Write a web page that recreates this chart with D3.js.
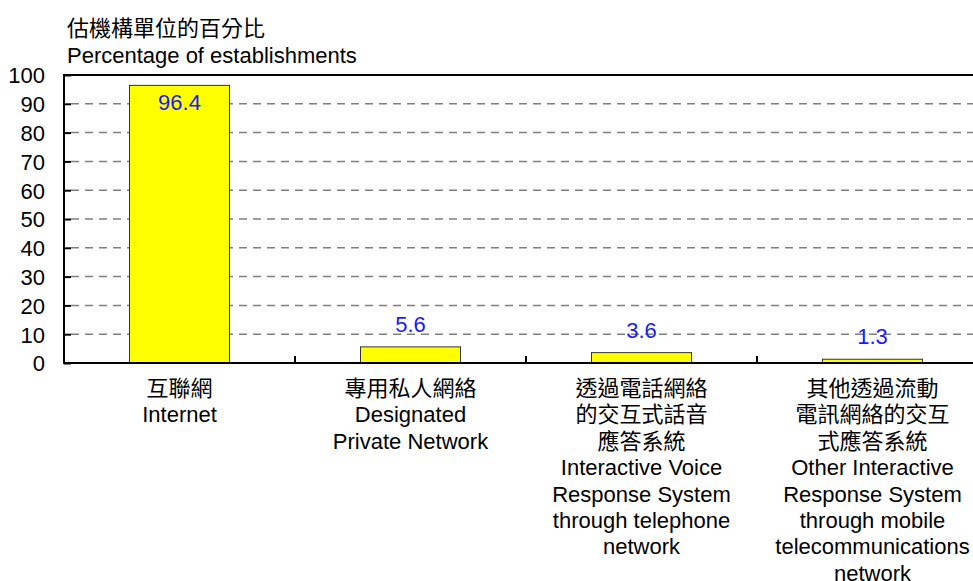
<!DOCTYPE html>
<html lang="zh-Hant">
  <head>
    <meta charset="UTF-8" />
    <title>估機構單位的百分比</title>
    <style>
      body { margin: 0; background: #fff; }
      text {
        font-family: "Liberation Sans", Arial, "Noto Sans CJK TC", sans-serif;
        font-size: 22px;
        fill: #000;
      }
      .grid line { stroke: #808080; stroke-width: 1.5px; stroke-dasharray: 8, 6; }
      .bar { fill: #ffff00; stroke: #333; stroke-width: 1px; }
      .value { fill: #1a1aff; text-anchor: middle; }
    </style>
  </head>
  <body>
    <div id="chart"></div>
    <script src="https://cdn.jsdelivr.net/npm/d3@7"></script>
    <script>
      /* global d3 */

      // data
      const categories = [
        ["互聯網", "Internet"],
        ["專用私人網絡", "Designated", "Private Network"],
        ["透過電話網絡", "的交互式話音", "應答系統", "Interactive Voice",
         "Response System", "through telephone", "network"],
        ["其他透過流動", "電訊網絡的交互", "式應答系統", "Other Interactive",
         "Response System", "through mobile", "telecommunications", "network"]
      ];
      const values = [96.4, 5.6, 3.6, 1.3];
      const yTicks = [0, 10, 20, 30, 40, 50, 60, 70, 80, 90, 100];
      const titleLines = ["估機構單位的百分比", "Percentage of establishments"];

      const width = 973,
        height = 581;
      const plotLeft = 64, plotTop = 75, plotBottom = 363, plotRight = 988;

      const svg = d3.select("#chart").append("svg")
        .attr("width", width)
        .attr("height", height);

      const x = d3.scaleBand()
        .domain(d3.range(values.length))
        .range([plotLeft, plotRight])
        .padding(0);

      const y = d3.scaleLinear().domain([0, 100]).range([plotBottom, plotTop]);

      // title
      svg.selectAll(".title")
        .data(titleLines)
        .join("text")
        .attr("class", "title")
        .attr("x", 67)
        .attr("y", (d, i) => 36 + i * 27)
        .text(d => d);

      // dashed gridlines
      svg.append("g")
        .attr("class", "grid")
        .selectAll("line")
        .data(yTicks.filter(t => t > 0 && t < 100))
        .join("line")
        .attr("x1", plotLeft + 7)
        .attr("x2", width)
        .attr("y1", d => y(d))
        .attr("y2", d => y(d));

      // bars
      const bw = x.bandwidth() * 0.433;
      svg.selectAll(".bar")
        .data(values)
        .join("rect")
        .attr("class", "bar")
        .attr("x", (d, i) => x(i) + x.bandwidth() / 2 - bw / 2)
        .attr("y", d => y(d))
        .attr("width", bw)
        .attr("height", d => y(0) - y(d));

      // value labels
      svg.selectAll(".value")
        .data(values)
        .join("text")
        .attr("class", "value")
        .attr("x", (d, i) => x(i) + x.bandwidth() / 2)
        .attr("y", d => d > 50 ? y(d) + 25 : y(d) - 15)
        .text(d => d.toFixed(1));

      // y axis
      const yAxis = d3.axisLeft(y)
        .tickValues(yTicks)
        .tickSize(-7)
        .tickPadding(19);
      const gy = svg.append("g")
        .attr("transform", `translate(${plotLeft},0)`)
        .call(yAxis);
      gy.select(".domain").remove();
      gy.selectAll(".tick line").attr("stroke", "#000").attr("stroke-width", 2);
      gy.selectAll(".tick text")
        .attr("font-size", null)
        .attr("font-family", null)
        .attr("dy", "0.36em");

      // frame lines: left, top and bottom
      svg.append("line")
        .attr("x1", plotLeft).attr("x2", plotLeft)
        .attr("y1", plotTop).attr("y2", plotBottom)
        .attr("stroke", "#000").attr("stroke-width", 2);
      svg.append("line")
        .attr("x1", plotLeft - 1).attr("x2", width)
        .attr("y1", plotTop).attr("y2", plotTop)
        .attr("stroke", "#000").attr("stroke-width", 2);
      svg.append("line")
        .attr("x1", plotLeft - 1).attr("x2", width)
        .attr("y1", plotBottom).attr("y2", plotBottom)
        .attr("stroke", "#000").attr("stroke-width", 2);

      // category divider ticks
      svg.selectAll(".ctick")
        .data(d3.range(1, values.length))
        .join("line")
        .attr("class", "ctick")
        .attr("x1", d => x(d)).attr("x2", d => x(d))
        .attr("y1", plotBottom).attr("y2", plotBottom - 7)
        .attr("stroke", "#000").attr("stroke-width", 2);

      // category labels
      svg.selectAll(".cat")
        .data(categories)
        .join("text")
        .attr("class", "cat")
        .attr("text-anchor", "middle")
        .attr("transform", (d, i) => `translate(${x(i) + x.bandwidth() / 2},396)`)
        .selectAll("tspan")
        .data(d => d)
        .join("tspan")
        .attr("x", 0)
        .attr("y", (d, i) => i * 26.4)
        .text(d => d);
    </script>
  </body>
</html>
